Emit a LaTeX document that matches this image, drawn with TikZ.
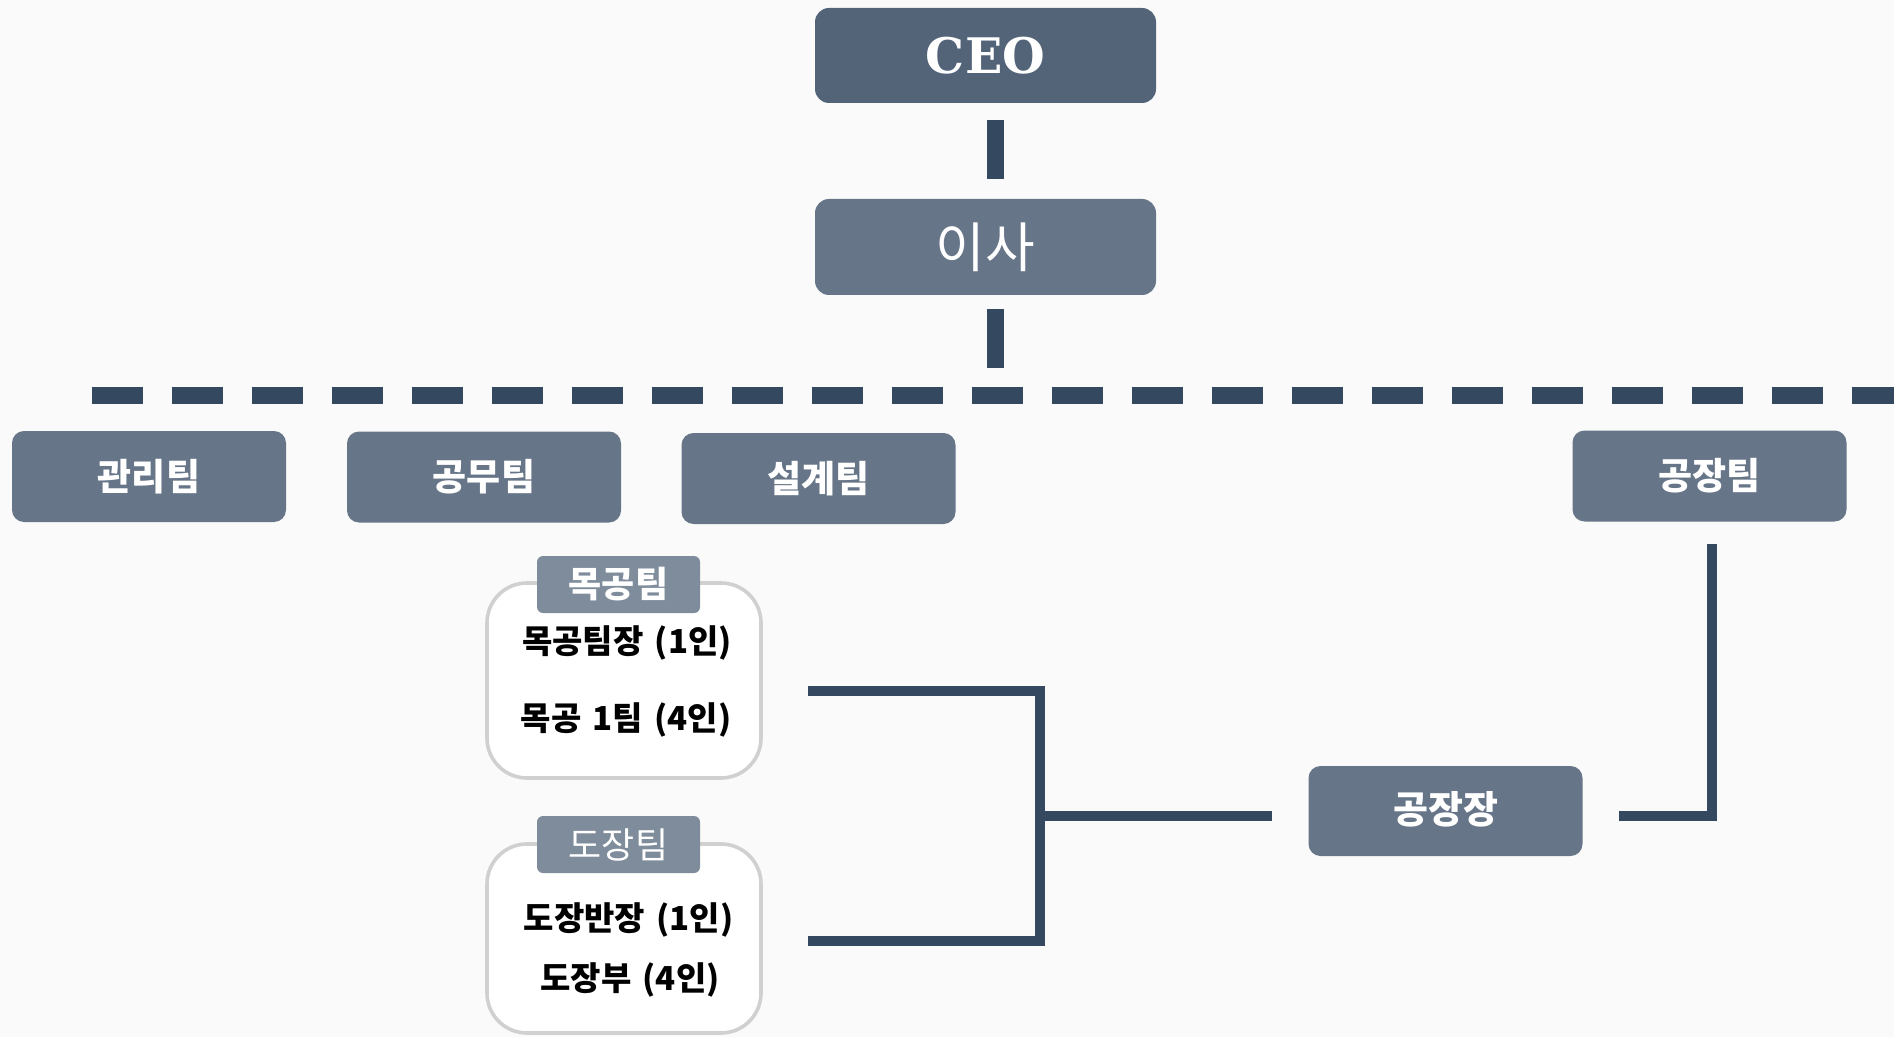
\documentclass[tikz,border=0pt]{standalone}
\usepackage{fontspec}
\newfontfamily\kr{Noto Sans CJK KR}
\newfontfamily\krw{Noto Sans CJK KR}[WordSpace={1.5}]
\newfontfamily\ceofont{DejaVu Serif}
\definecolor{bgc}{HTML}{FAFAFA}
\definecolor{ceoc}{HTML}{536479}
\definecolor{boxc}{HTML}{667587}
\definecolor{tabc}{HTML}{7F8C9B}
\definecolor{linec}{HTML}{34485F}
\definecolor{grpc}{HTML}{D0D0D0}
\begin{document}
\begin{tikzpicture}[x=0.5pt,y=-0.5pt,
  topbox/.style={fill=#1, rounded corners=7pt, minimum width=170.5pt, minimum height=47.5pt, inner sep=0pt, text=white},
  team/.style={fill=boxc, rounded corners=6pt, minimum width=137pt, minimum height=45.5pt, inner sep=0pt, text=white, font=\kr\bfseries\fontsize{18.5}{22}\selectfont},
  grp/.style={draw=grpc, line width=1.8pt, fill=white, rounded corners=20pt, minimum width=137pt, inner sep=0pt},
  tab/.style={fill=tabc, rounded corners=3pt, minimum width=81.5pt, minimum height=28.5pt, inner sep=0pt, text=white},
  item/.style={inner sep=0pt, text=black, font=\krw\bfseries\fontsize{16.5}{20}\selectfont},
  vconn/.style={draw=linec, line width=8.5pt},
  bus/.style={draw=linec, line width=8pt, dash pattern=on 25.5pt off 14.5pt},
  conn/.style={draw=linec, line width=4.75pt}
]
\fill[bgc] (0,0) rectangle (1894,1037);
\useasboundingbox (0,0) rectangle (1894,1037);

% top
\node[topbox=ceoc, font=\ceofont\bfseries\fontsize{24.5}{30}\selectfont] (ceo) at (985.5,55.5) {CEO};
\node[topbox=boxc, minimum height=48pt, font=\kr\fontsize{27}{30}\selectfont] (isa) at (985.5,247) {이사};

\coordinate (busL) at (92,395.5);
\coordinate (busR) at (1894,395.5);
\coordinate (busT) at (995.5,368);

\draw[vconn] ([xshift=5pt,yshift=-8.5pt]ceo.south) -- ([xshift=5pt,yshift=10pt]isa.north);
\draw[vconn] ([xshift=5pt,yshift=-7pt]isa.south) -- (busT);
\draw[bus] (busL) -- (busR);

% teams
\node[team] (gwanri) at (149,476.5) {\raisebox{1pt}{관리팀}};
\node[team] (gongmu) at (484,477) {\raisebox{1pt}{공무팀}};
\node[team] (seolgye) at (818.5,478.5) {\raisebox{1pt}{설계팀}};
\node[team] (gongjangteam) at (1709.5,476) {\raisebox{1pt}{공장팀}};

% groups
\node[grp, minimum height=97.5pt] (mokgrp) at (624,680.5) {};
\node[tab, font=\kr\bfseries\fontsize{18}{22}\selectfont] (moktab) at (618.5,584.5) {목공팀};
\node[item] (mok1) at (627,643) {목공팀장 (1인)};
\node[item] (mok2) at (626,720) {목공 1팀 (4인)};

\node[grp, minimum height=94.5pt] (dogrp) at (624,938.5) {};
\node[tab, font=\kr\fontsize{18}{22}\selectfont] (dotab) at (618.5,844.5) {도장팀};
\node[item] (do1) at (628.5,920) {도장반장 (1인)};
\node[item] (do2) at (630,980) {도장부 (4인)};

% factory head
\node[team, minimum height=45pt, font=\kr\bfseries\fontsize{19}{22}\selectfont] (jang) at (1445.5,811) {\raisebox{4pt}{공장장}};

% bracket
\coordinate (b1) at (808,691);
\coordinate (b2) at (808,941);
\coordinate (bj) at (1040,816);
\coordinate (bjEnd) at (1272,816);
\coordinate (r1) at (1619,816);
\coordinate (r2) at (1712,544);

\draw[conn] (b1) -- (b1 -| bj) -- (b2 -| bj) -- (b2);
\draw[conn] (bj) -- (bjEnd);
\draw[conn] (r1) -- (r1 -| r2) -- (r2);
\end{tikzpicture}
\end{document}
